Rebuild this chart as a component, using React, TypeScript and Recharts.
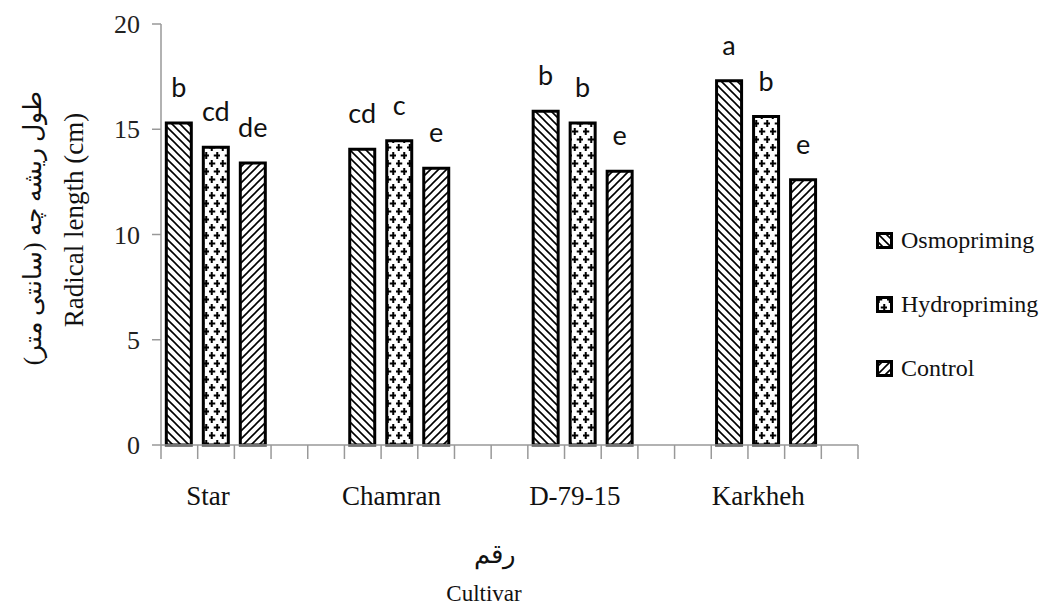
import React from 'react';
import { BarChart, Bar, XAxis, YAxis, LabelList, Legend } from 'recharts';

// cultivars and where each group sits on the 0..19 slot axis
const cultivars = ['Star', 'Chamran', 'D-79-15', 'Karkheh'];
const groupPos = [1.5, 6.5, 11.5, 16.5];

// radical length (cm)
const osmopriming = [15.3, 14.05, 15.85, 17.3];
const hydropriming = [14.15, 14.45, 15.3, 15.6];
const control = [13.4, 13.15, 13.0, 12.6];

// Duncan letters
const osmoLetters = ['b', 'cd', 'b', 'a'];
const hydroLetters = ['cd', 'c', 'b', 'b'];
const controlLetters = ['de', 'e', 'e', 'e'];

const yTicks = [0, 5, 10, 15, 20];
const slotTicks = Array.from({ length: 20 }, (_, i) => i);

const series = [
  { key: 'osmo', name: 'Osmopriming', fill: 'url(#patOsmo)', letters: 'osmoL' },
  { key: 'hydro', name: 'Hydropriming', fill: 'url(#patHydro)', letters: 'hydroL' },
  { key: 'control', name: 'Control', fill: 'url(#patControl)', letters: 'controlL' },
];

const data = cultivars.map((name, i) => ({
  name,
  x: groupPos[i],
  osmo: osmopriming[i],
  hydro: hydropriming[i],
  control: control[i],
  osmoL: osmoLetters[i],
  hydroL: hydroLetters[i],
  controlL: controlLetters[i],
}));

const serif = '"Liberation Serif", "Times New Roman", "DejaVu Serif", serif';

const XTick = (props: any) => {
  const { x, y, payload } = props;
  const v = payload.value;
  if (Number.isInteger(v)) {
    return <line x1={x} x2={x} y1={y} y2={y + 14} stroke="#999" strokeWidth={1.5} />;
  }
  const i = groupPos.indexOf(v);
  return (
    <text x={x - 8} y={y + 60} textAnchor="middle" fill="#111" fontSize={27} fontFamily={serif}>
      {cultivars[i]}
    </text>
  );
};

const YTitles = () => (
  <g>
    <text
      x={32}
      y={228}
      transform="rotate(-90, 32, 228)"
      textAnchor="middle"
      dominantBaseline="central"
      direction="rtl"
      fill="#111"
      fontSize={25}
      fontFamily={serif}
    >
      طول ریشه چه (سانتی متر)
    </text>
    <text
      x={74}
      y={220}
      transform="rotate(-90, 74, 220)"
      textAnchor="middle"
      dominantBaseline="central"
      fill="#111"
      fontSize={27}
      fontFamily={serif}
    >
      Radical length (cm)
    </text>
  </g>
);

const XTitles = () => (
  <g>
    <text x={495} y={563} textAnchor="middle" direction="rtl" fill="#111" fontSize={26} fontFamily={serif}>
      رقم
    </text>
    <text x={484} y={601} textAnchor="middle" fill="#111" fontSize={23} fontFamily={serif}>
      Cultivar
    </text>
  </g>
);

const LegendBox = () => (
  <div>
    {series.map((s) => (
      <div key={s.key} style={{ display: 'flex', alignItems: 'center', height: 64 }}>
        <svg width={17} height={17} style={{ marginRight: 8 }}>
          <rect x={1.5} y={1.5} width={14} height={14} fill={s.fill} stroke="#000" strokeWidth={3} />
        </svg>
        <span style={{ fontFamily: serif, fontSize: 24, color: '#111' }}>{s.name}</span>
      </div>
    ))}
  </div>
);

export default function App() {
  return (
    <div style={{ position: 'absolute', left: 0, top: 0, width: 1042, height: 613, background: '#fff' }}>
      <BarChart
        width={1042}
        height={613}
        data={data}
        margin={{ top: 24, right: 184, left: 0, bottom: 108 }}
        barSize={25}
        barGap={12}
      >
        <defs>
          <pattern id="patOsmo" width={8} height={8} patternUnits="userSpaceOnUse">
            <rect width={8} height={8} fill="#fff" />
            <path d="M0,0 L8,8 M-2,6 L2,10 M6,-2 L10,2" stroke="#000" strokeWidth={1.6} />
          </pattern>
          <pattern id="patControl" width={8} height={8} patternUnits="userSpaceOnUse">
            <rect width={8} height={8} fill="#fff" />
            <path d="M0,8 L8,0 M-2,2 L2,-2 M6,10 L10,6" stroke="#000" strokeWidth={1.6} />
          </pattern>
          <pattern id="patHydro" width={11} height={16} patternUnits="userSpaceOnUse">
            <rect width={11} height={16} fill="#fff" />
            <path
              d="M2.75,0 L2.75,7 M-0.75,3.5 L6.25,3.5 M8.25,8 L8.25,15 M4.75,11.5 L11.75,11.5"
              stroke="#000"
              strokeWidth={2}
            />
          </pattern>
        </defs>
        <XAxis
          dataKey="x"
          type="number"
          domain={[0, 19]}
          ticks={[...slotTicks, ...groupPos].sort((a, b) => a - b)}
          interval={0}
          tickLine={false}
          tickSize={0}
          tickMargin={0}
          tick={<XTick />}
          height={60}
          axisLine={{ stroke: '#999', strokeWidth: 1.5 }}
          label={<XTitles />}
        />
        <YAxis
          domain={[0, 20]}
          ticks={yTicks}
          width={161}
          tickSize={9}
          tickMargin={12}
          tick={{ fill: '#222', fontSize: 26, fontFamily: serif }}
          tickLine={{ stroke: '#999', strokeWidth: 1.5 }}
          axisLine={{ stroke: '#999', strokeWidth: 1.5 }}
          label={<YTitles />}
        />
        <Legend
          layout="vertical"
          align="center"
          verticalAlign="middle"
          width={170}
          wrapperStyle={{ left: 876, top: 208 }}
          content={<LegendBox />}
        />
        {series.map((s) => (
          <Bar key={s.key} dataKey={s.key} name={s.name} fill={s.fill} stroke="#000" strokeWidth={3} isAnimationActive={false}>
            <LabelList dataKey={s.letters} position="top" offset={26} fill="#111" fontSize={27} fontFamily="Lato, 'Open Sans', sans-serif" />
          </Bar>
        ))}
      </BarChart>
    </div>
  );
}
